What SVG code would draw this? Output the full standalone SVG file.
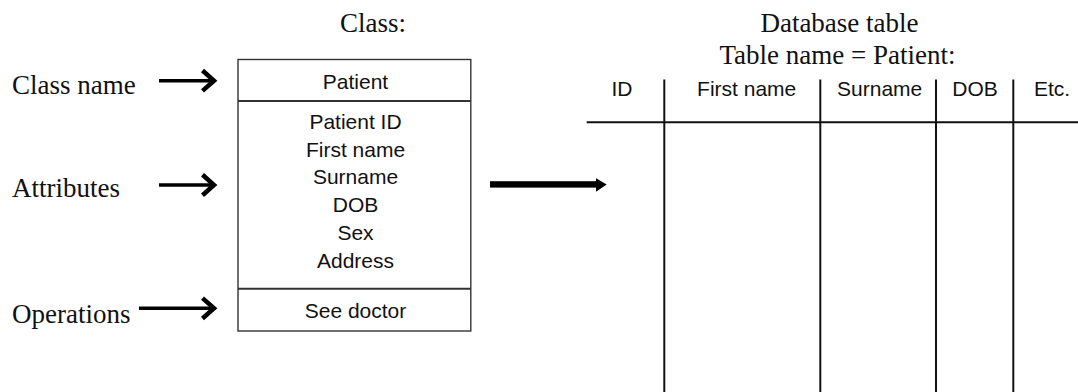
<svg xmlns="http://www.w3.org/2000/svg" width="1078" height="392" viewBox="0 0 1078 392">
  <style>
    .serif { font-family: "Liberation Serif", "Times New Roman", serif; font-size: 27px; fill: #111; }
    .sans { font-family: "Liberation Sans", Arial, sans-serif; font-size: 21px; fill: #111; text-anchor: middle; }
    .mid { text-anchor: middle; }
    .box { fill: #fff; stroke: #333; stroke-width: 1.4; }
    .divider { stroke: #333; stroke-width: 2; }
    .grid { stroke: #111; stroke-width: 2; }
    .pointer { stroke: #000; stroke-width: 3.5; fill: none; }
    .chevron { stroke: #000; stroke-width: 4.5; fill: none; stroke-linejoin: miter; }
  </style>

  <!-- Titles -->
  <text class="serif mid" x="373" y="31.5">Class:</text>
  <text class="serif mid" x="839.5" y="31.5">Database table</text>
  <text class="serif mid" x="837.5" y="63.5">Table name = Patient:</text>

  <!-- Left-hand labels -->
  <g id="label-class-name">
    <text class="serif" x="12" y="94.3">Class name</text>
  </g>
  <g id="label-attributes">
    <text class="serif" x="12" y="196.7">Attributes</text>
  </g>
  <g id="label-operations">
    <text class="serif" x="12" y="323.3">Operations</text>
  </g>

  <!-- Class box with three compartments -->
  <g id="class-patient">
    <rect class="box" x="238" y="59.5" width="232.8" height="271.5"/>
    <line class="divider" x1="238" y1="101" x2="470.8" y2="101"/>
    <line class="divider" x1="238" y1="288.7" x2="470.8" y2="288.7"/>
    <text class="sans" x="355.5" y="89.3">Patient</text>
    <text class="sans" x="355.5" y="129">Patient ID</text>
    <text class="sans" x="355.5" y="156.7">First name</text>
    <text class="sans" x="355.5" y="184.4">Surname</text>
    <text class="sans" x="355.5" y="212.1">DOB</text>
    <text class="sans" x="355.5" y="239.8">Sex</text>
    <text class="sans" x="355.5" y="267.5">Address</text>
    <text class="sans" x="355.5" y="318.3">See doctor</text>
  </g>

  <!-- Database table -->
  <g id="table-patient">
    <line class="grid" x1="586.7" y1="122.3" x2="1078" y2="122.3"/>
    <line class="grid" x1="664.3" y1="79.5" x2="664.3" y2="392"/>
    <line class="grid" x1="820.3" y1="79.5" x2="820.3" y2="392"/>
    <line class="grid" x1="936" y1="79.5" x2="936" y2="392"/>
    <line class="grid" x1="1013.3" y1="79.5" x2="1013.3" y2="392"/>
    <text class="sans" x="622" y="96">ID</text>
    <text class="sans" x="746.7" y="96">First name</text>
    <text class="sans" x="879.7" y="96">Surname</text>
    <text class="sans" x="975" y="96">DOB</text>
    <text class="sans" x="1052" y="96">Etc.</text>
  </g>

  <!-- Connectors -->
  <g id="connectors">
    <!-- Class name pointer -->
    <line class="pointer" x1="159" y1="80.7" x2="213" y2="80.7"/>
    <polyline class="chevron" points="202.5,70.5 214,80.7 202.5,90.9"/>
    <!-- Attributes pointer -->
    <line class="pointer" x1="159" y1="185" x2="213" y2="185"/>
    <polyline class="chevron" points="202.5,174.8 214,185 202.5,195.2"/>
    <!-- Operations pointer -->
    <line class="pointer" x1="139" y1="308.3" x2="213" y2="308.3"/>
    <polyline class="chevron" points="202.5,298.1 214,308.3 202.5,318.5"/>
    <!-- Class to table mapping arrow -->
    <rect x="490" y="181.2" width="107" height="6.4" fill="#000"/>
    <polygon points="596,178.3 606.7,184.4 596,191.7" fill="#000"/>
  </g>
</svg>
